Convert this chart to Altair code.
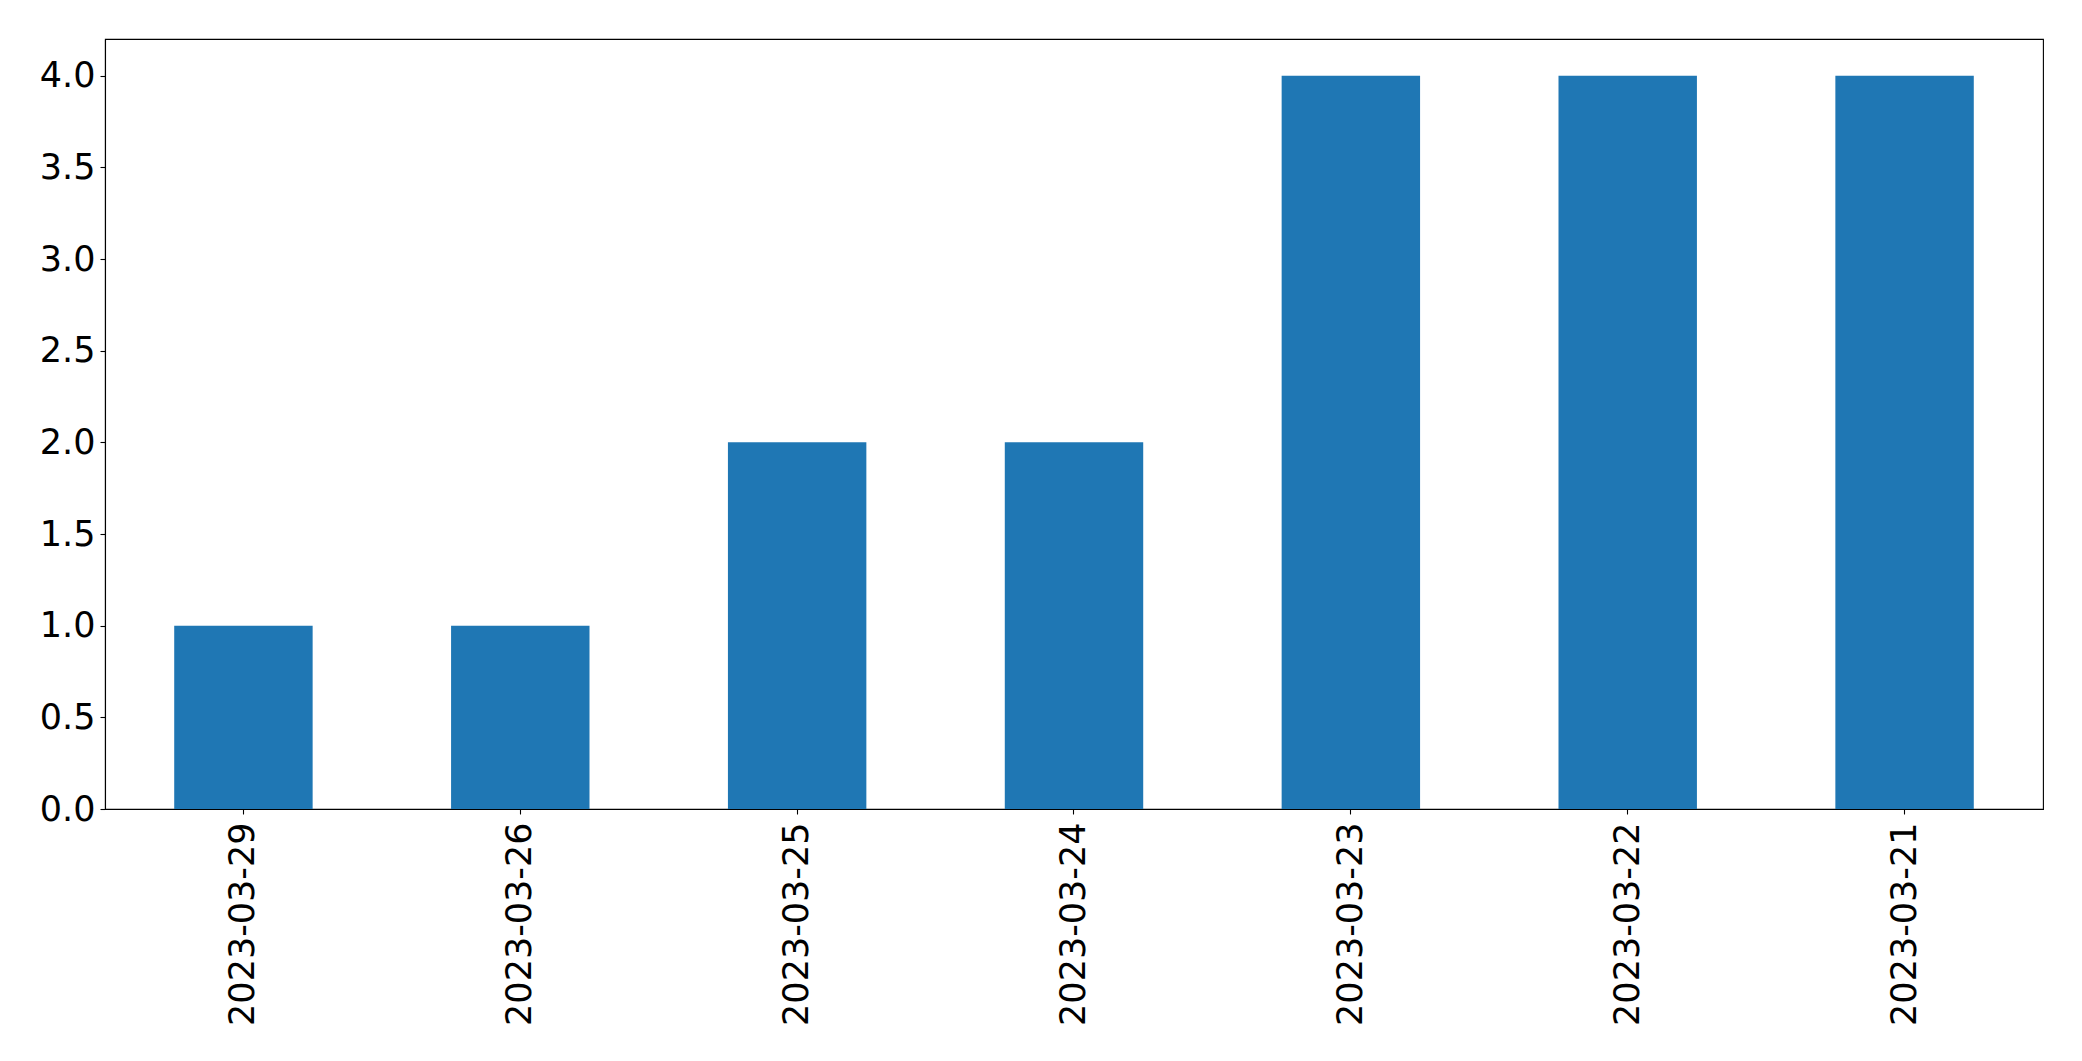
import altair as alt
import pandas as pd

dates = ["2023-03-29", "2023-03-26", "2023-03-25", "2023-03-24",
         "2023-03-23", "2023-03-22", "2023-03-21"]
counts = [1, 1, 2, 2, 4, 4, 4]
y_ticks = [0.0, 0.5, 1.0, 1.5, 2.0, 2.5, 3.0, 3.5, 4.0]

df = pd.DataFrame({"date": dates, "count": counts})

chart = alt.Chart(df).mark_bar(color="#1f77b4").encode(
    x=alt.X("date:N", sort=None, title=None,
            scale=alt.Scale(paddingInner=0.5, paddingOuter=0.25),
            axis=alt.Axis(labelAngle=270, labelAlign="right", labelBaseline="middle",
                          labelFontSize=35, labelFont="DejaVu Sans", labelColor="black",
                          labelLimit=0,
                          tickColor="black", tickSize=5, tickWidth=1.1,
                          domainColor="black", domainWidth=1.1, labelPadding=8)),
    y=alt.Y("count:Q", title=None,
            scale=alt.Scale(domain=[0, 4.2], nice=False, zero=True),
            axis=alt.Axis(values=y_ticks, format=".1f", grid=False,
                          labelFontSize=35, labelFont="DejaVu Sans", labelColor="black",
                          tickColor="black", tickSize=5, tickWidth=1.1,
                          domainColor="black", domainWidth=1.1, labelPadding=5)),
).properties(
    width=1938, height=770,
    autosize=alt.AutoSizeParams(type="none"),
    padding={"left": 97, "top": 31, "right": 30, "bottom": 230},
).configure_view(stroke="black", strokeWidth=1.1)

chart.save("out.html", embed_options={"renderer": "svg", "actions": False})
